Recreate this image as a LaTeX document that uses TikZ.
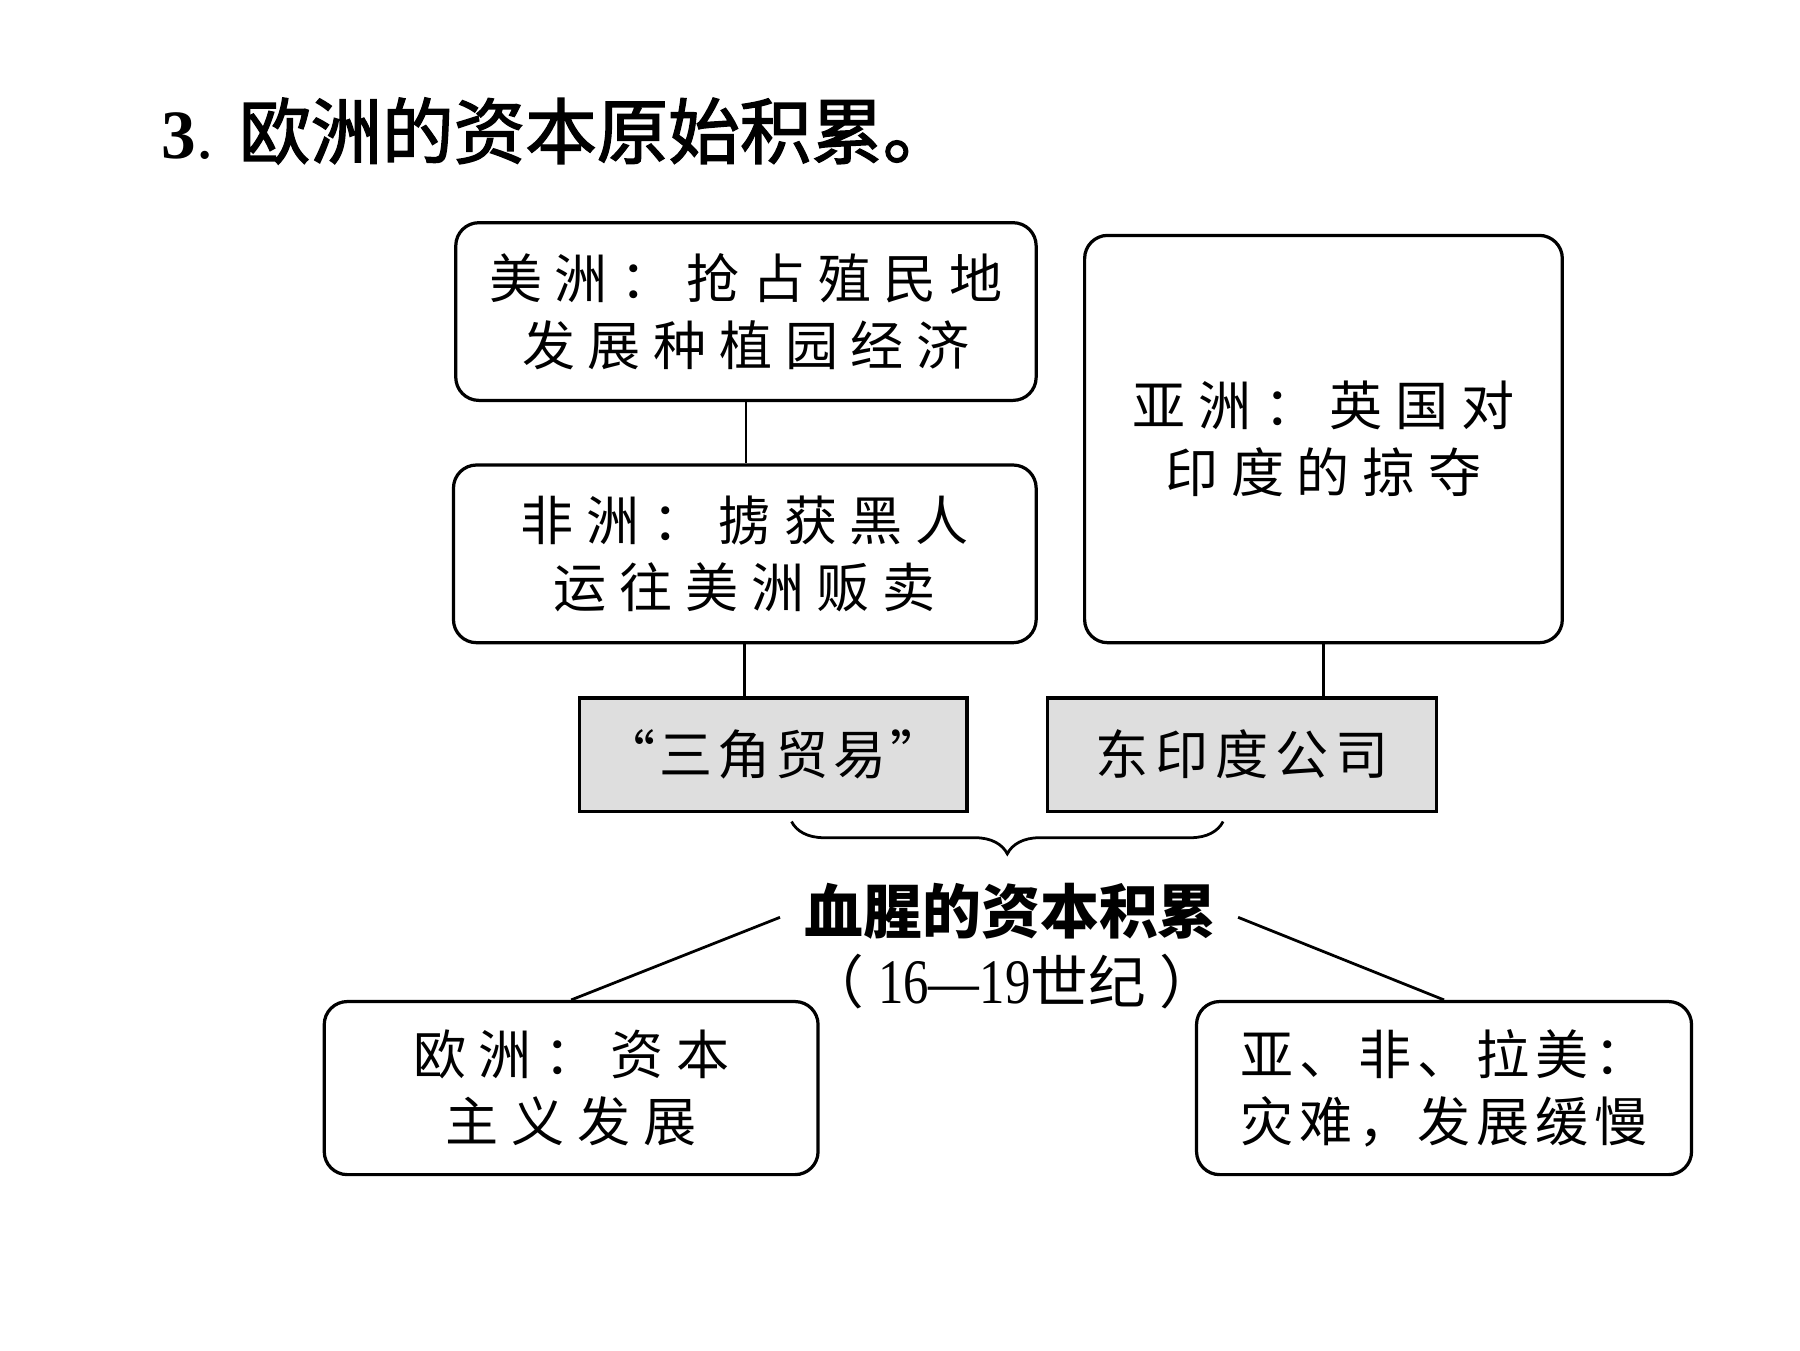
\documentclass[tikz,border=0pt]{standalone}
\usepackage{fontspec}
\usepackage{graphicx}
\setmainfont{Liberation Serif}
\newfontfamily\cjk{Noto Sans CJK SC}
\newfontfamily\cjkm[FakeBold=2]{Noto Sans CJK SC}
\usetikzlibrary{decorations.pathreplacing}
\newlength\csp
\def\spc#1#2{\global\csp=#1\relax\spcA#2\relax}
\def\spcA#1{\ifx\relax#1\unskip\else#1\hspace{\csp}\expandafter\spcA\fi}
\tikzset{
  rbox/.style={draw, line width=2.8pt, rounded corners=20pt, align=center,
    inner sep=0pt, font=\cjk\fontsize{46}{58}\selectfont},
  gbox/.style={draw, line width=2.8pt, fill=black!13, align=center,
    inner sep=0pt, font=\cjk\fontsize{46}{58}\selectfont},
  conn/.style={line width=2.4pt},
}
\begin{document}
\begin{tikzpicture}[x=1pt,y=-1pt]
\useasboundingbox (0,0) rectangle (1560,1170);
\fill[white] (0,0) rectangle (1560,1170);
% title
\node[anchor=base west, inner sep=0pt] (title) at (140,137)
  {\fontsize{60}{62}\selectfont\textbf{3}.\hspace{22pt}{\cjkm\fontsize{62}{64}\selectfont 欧洲的资本原始积累。}};
% boxes
\node[rbox, minimum width=503pt, minimum height=154pt] (A) at (646.5,270)
  {\spc{11pt}{美洲：抢占殖民地}\\\spc{11pt}{发展种植园经济}};
\node[rbox, minimum width=505pt, minimum height=154pt] (B) at (645.5,480)
  {\spc{11pt}{非洲：掳获黑人}\\\spc{11pt}{运往美洲贩卖}};
\node[rbox, minimum width=414pt, minimum height=353pt] (C) at (1147,380.5)
  {\spc{11pt}{亚洲：英国对}\\\spc{11pt}{印度的掠夺}};
\node[gbox, minimum width=336pt, minimum height=98pt] (G1) at (670,654)
  {\spc{4pt}{“三角贸易”}};
\node[gbox, minimum width=337pt, minimum height=98pt] (G2) at (1076.5,654)
  {\spc{6pt}{东印度公司}};
\node[inner sep=0pt, font=\cjk\bfseries\fontsize{51}{53}\selectfont] (M) at (876,790) {血腥的资本积累};
\node[inner sep=0pt, font=\cjk\fontsize{50}{52}\selectfont] (P) at (877,851)
  {（\hspace{12pt}\scalebox{0.8}[1]{\rmfamily\fontsize{55}{55}\selectfont 16—19}世纪\hspace{12pt}）};
\node[rbox, minimum width=428pt, minimum height=150pt] (D) at (495,943)
  {\spc{11pt}{欧洲：资本}\\\spc{11pt}{主义发展}};
\node[rbox, minimum width=429pt, minimum height=150pt] (E) at (1251.5,943)
  {\spc{5pt}{亚、非、拉美：}\\\spc{5pt}{灾难，发展缓慢}};
% connectors
\draw[conn] (A.south) -- (A.south |- B.north);
\draw[conn] (B.south) -- (B.south |- G1.north);
\draw[conn] (C.south) -- (C.south |- G2.north);
\coordinate (br1) at (1060,712);
\coordinate (br2) at (686,712);
\draw[line width=2.4pt, decorate, decoration={brace, amplitude=28pt}] (br1) -- (br2);
\coordinate (ml) at (676,795);
\coordinate (mr) at (1073,795);
\draw[conn] (ml) -- (D.north);
\draw[conn] (mr) -- (E.north);
\end{tikzpicture}
\end{document}
